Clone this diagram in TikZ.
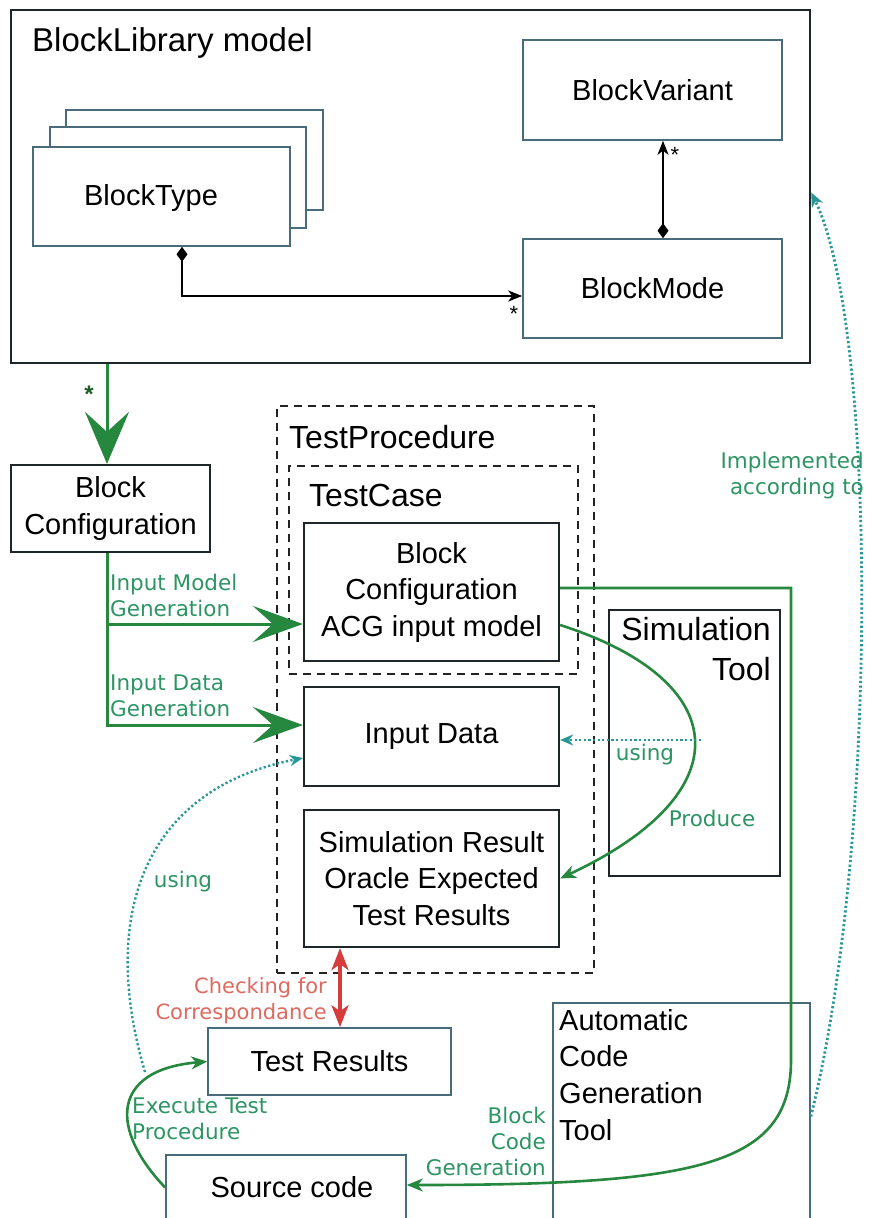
\documentclass[tikz,border=0pt]{standalone}
\usepackage{fontspec}
\setmainfont{Liberation Sans}
\newfontfamily\labfont{DejaVu Sans}
\usetikzlibrary{arrows.meta,calc}
\definecolor{boxc}{RGB}{30,38,42}
\definecolor{thinc}{RGB}{72,108,122}
\definecolor{gline}{RGB}{38,135,62}
\definecolor{glab}{RGB}{45,148,100}
\definecolor{tealdot}{RGB}{40,150,150}
\definecolor{redarr}{RGB}{215,60,60}
\definecolor{redlab}{RGB}{222,105,95}
\definecolor{dashc}{RGB}{35,35,35}
\begin{document}
\begin{tikzpicture}[x=1pt,y=-1pt,
  box/.style={draw=boxc, line width=2.2pt, fill=white, inner sep=0pt,
    font=\fontsize{29}{36.5}\selectfont, align=center},
  thinbox/.style={box, draw=thinc, line width=1.6pt},
  dbox/.style={draw=dashc, line width=2pt, dash pattern=on 8pt off 6pt, inner sep=0pt},
  title/.style={inner sep=0pt, anchor=west, font=\fontsize{32}{38}\selectfont},
  lbl/.style={inner sep=0pt, text=glab, font=\labfont\fontsize{21.5}{26}\selectfont},
  rlbl/.style={inner sep=0pt, text=redlab, font=\labfont\fontsize{21}{26}\selectfont},
  star/.style={inner sep=0pt, font=\fontsize{22}{22}\selectfont},
  uml/.style={draw=black, line width=2.2pt},
  gl/.style={draw=gline, line width=3pt},
  smalltip/.style={-{Stealth[length=16pt,width=13pt,inset=5pt]}},
  dotl/.style={draw=tealdot, line width=2.8pt, dash pattern=on 2.2pt off 2.4pt}]
\useasboundingbox (0,0) rectangle (869,1218);

% BlockLibrary model
\node[box, line width=2.4pt, minimum width=799pt, minimum height=353pt] (lib) at (410.5,186.5) {};
\node[title, font=\fontsize{33}{38}\selectfont] (libt) at (32,43) {BlockLibrary model};
\node[thinbox, minimum width=257pt, minimum height=100pt] (bt3) at (194.5,160) {};
\node[thinbox, minimum width=256pt, minimum height=101pt] (bt2) at (178,177.5) {};
\node[thinbox, minimum width=257pt, minimum height=99pt] (bt) at (161.5,196.5) {};
\node[inner sep=0pt, font=\fontsize{29}{36}\selectfont] (btt) at (151,198) {BlockType};
\node[thinbox, minimum width=259pt, minimum height=100pt] (bv) at (652.5,90) {BlockVariant};
\node[thinbox, minimum width=259pt, minimum height=99pt] (bm) at (652.5,288.5) {BlockMode};

\draw[uml, {Diamond[length=15pt,width=11pt]}-{Stealth[length=14pt,width=11pt,inset=4pt]}]
  ([xshift=20.5pt]bt.south) |- ([yshift=-7.5pt]bm.west);
\draw[uml, {Diamond[length=15pt,width=11pt]}-{Stealth[length=14pt,width=11pt,inset=4pt]}]
  ([xshift=10.5pt]bm.north) -- ([xshift=10.5pt]bv.south);
\node[star] (s1) at (514,314) {*};
\node[star] (s2) at (675,155) {*};

% Block Configuration
\node[box, minimum width=199pt, minimum height=87pt] (bc) at (110.5,508.5) {Block\\Configuration};
\coordinate (bcs) at ([xshift=-3.5pt]bc.south);
\coordinate (bcn) at ([xshift=-3.5pt]bc.north);
\draw[gl, -{Stealth[length=52pt,width=44pt,inset=20pt]}] (bcn |- lib.south) -- (bcn);
\node[star, font=\bfseries\fontsize{24}{24}\selectfont, text=gline!70!black] (s3) at (89,394) {*};

% TestProcedure
\node[dbox, minimum width=317pt, minimum height=567pt] (tp) at (435.5,689.5) {};
\node[title] (tpt) at (289,437) {TestProcedure};
\node[dbox, minimum width=289pt, minimum height=208pt] (tc) at (433.5,570) {};
\node[title] (tct) at (309,495) {TestCase};
\node[box, minimum width=255pt, minimum height=138pt] (acg) at (431.5,592) {Block\\Configuration\\ACG input model};
\node[box, minimum width=255pt, minimum height=99pt] (id) at (431.5,736.5) {Input Data};
\node[box, minimum width=255pt, minimum height=137pt] (sr) at (431.5,878.5) {Simulation Result\\Oracle Expected\\Test Results};

% Simulation Tool
\node[box, minimum width=171pt, minimum height=266pt] (st) at (694.5,743) {};
\node[inner sep=0pt, anchor=north east, align=right, font=\fontsize{32}{40}\selectfont] (stt) at (771,617) {Simulation\\Tool};

% Automatic Code Generation Tool
\node[thinbox, minimum width=257pt, minimum height=227pt] (act) at (681.5,1116.5) {};
\node[inner sep=0pt, anchor=north west, align=left, font=\fontsize{29}{36.7}\selectfont] (actt) at (559,1009) {Automatic\\Code\\Generation\\Tool};

% Test Results / Source code
\node[thinbox, minimum width=243pt, minimum height=67pt] (tr) at (329.5,1061.5) {Test Results};
\node[thinbox, minimum width=240pt, minimum height=75pt] (sc) at (286,1192.5) {};
\node[inner sep=0pt, font=\fontsize{29}{36}\selectfont] (sct) at (292,1187) {Source code};

% generation arrows
\coordinate (acgin) at ([yshift=-32pt]acg.west);
\coordinate (idin) at ([yshift=11.5pt]id.west);
\draw[gl, -{Stealth[length=50pt,width=36pt,inset=20pt]}] (bcs) |- (idin);
\draw[gl, -{Stealth[length=50pt,width=36pt,inset=20pt]}] (bcs |- acgin) -- (acgin);
\node[lbl, anchor=west, align=left] (l1) at (110,595.5) {Input Model\\Generation};
\node[lbl, anchor=west, align=left] (l2) at (110,696) {Input Data\\Generation};

% Produce
\draw[gl, line width=2.6pt, smalltip] ([yshift=-33pt]acg.east) .. controls (732,680) and (745,792) .. (sr.east);
\node[lbl] (l3) at (712,818) {Produce};

% using (simulation tool)
\coordinate (u1) at (701,740);
\draw[dotl, -{Stealth[length=13pt,width=11pt,inset=4pt]}] (u1) -- ([yshift=-3.5pt]id.east);
\node[lbl] (l4) at (645,755) {using};

% Block code generation
\coordinate (k1) at (791,588);
\coordinate (k2) at (791,1060);
\draw[gl, line width=2.6pt, smalltip] ([yshift=4pt]acg.east) -- (k1) -- (k2)
  .. controls (791,1165) and (700,1185) .. ([yshift=7.5pt]sc.east);
\node[lbl, anchor=east, align=right] (l5) at (546,1141) {Block\\Code\\Generation};

% Implemented according to
\draw[dotl, -{Stealth[length=14pt,width=12pt,inset=4pt]}] (act.east) .. controls (878,850) and (878,330) .. ([yshift=-6pt]lib.east);
\node[lbl, anchor=east, align=right] (l6) at (864,475.5) {Implemented\\according to};

% Checking for correspondance
\coordinate (trn) at ([xshift=10.5pt]tr.north);
\draw[draw=redarr, line width=3.5pt, {Stealth[length=22pt,width=17pt,inset=6pt]}-{Stealth[length=22pt,width=17pt,inset=6pt]}] (trn |- sr.south) -- (trn);
\node[rlbl, anchor=east, align=right] (l7) at (327,1001) {Checking for\\Correspondance};

% Execute test procedure
\draw[gl, line width=2.6pt, smalltip] ([yshift=5pt]sc.west) .. controls (110,1130) and (110,1070) .. (tr.west);
\node[lbl, anchor=west, align=left] (l8) at (132,1119) {Execute Test\\Procedure};

% using (source code -> input data)
\coordinate (u2) at (145,1072);
\draw[dotl, line width=2.4pt, -{Stealth[length=13pt,width=11pt,inset=4pt]}] (u2) .. controls (100,920) and (140,790) .. ([yshift=-21.5pt]id.west);
\node[lbl] (l9) at (183,882) {using};
\end{tikzpicture}
\end{document}
